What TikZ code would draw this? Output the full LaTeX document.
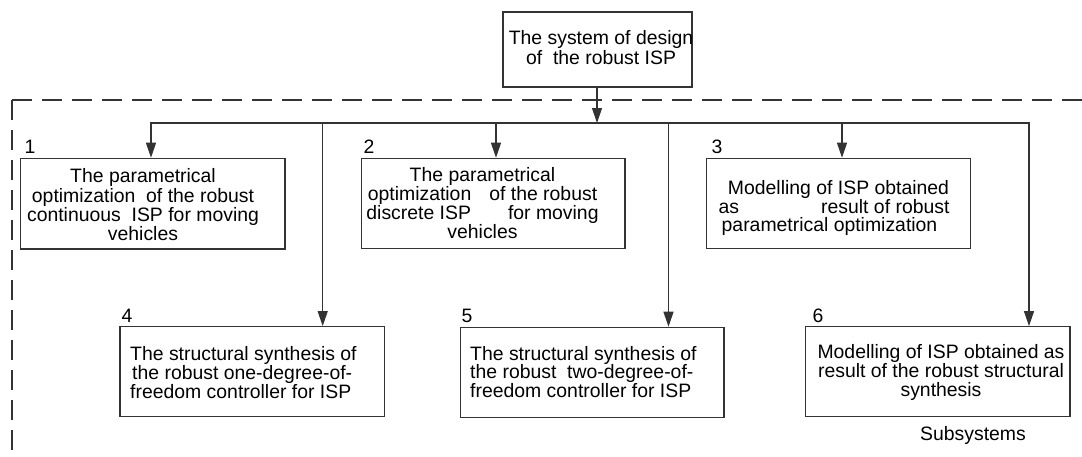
\documentclass[tikz,border=0pt]{standalone}
\usepackage{fontspec}
\setmainfont{Liberation Sans}
\usetikzlibrary{arrows.meta}

\tikzset{
  ln/.style={draw=black!80, line width=1.2pt},
  box/.style={ln, rectangle, inner sep=0pt, minimum width=#1},
  boxh/.style={minimum height=#1},
  arr/.style={ln, line join=miter, -{Triangle[length=15pt,width=10pt]}},
  frame/.style={draw=black!80, line width=1.2pt, dash pattern=on 20pt off 10pt},
  txt/.style={inner sep=0pt, align=center, font=\fontsize{19.4}{#1}\selectfont},
  txtl/.style={inner sep=0pt, align=left, anchor=west, font=\fontsize{19.4}{#1}\selectfont},
  num/.style={inner sep=0pt, font=\fontsize{19.4}{19.4}\selectfont},
}

\begin{document}
\begin{tikzpicture}[x=1pt, y=-1pt]
\useasboundingbox (0,0) rectangle (1082,456);

% dashed frame of the subsystems area
\coordinate (fc) at (12,100);
\coordinate (fb) at (12,456);
\coordinate (fr) at (1082,100);
\draw[frame] (fc) -- (fb);
\draw[frame] (fc) -- (fr);

% top-level system block
\node[box=189pt, boxh=75pt] (top) at (597.5,49.5) {};
\node[txt=20] (ttop) at (601,47.3) {The system of design\\of\ \ the robust ISP};

% subsystem blocks
\node[box=264.3pt, boxh=90.7pt] (b1) at (152.85,203.65) {};
\node[box=263.3pt, boxh=90pt]   (b2) at (493.35,203.3) {};
\node[box=264.4pt, boxh=90pt]   (b3) at (838.5,203.3) {};
\node[box=264.3pt, boxh=90pt]   (b4) at (252.15,371.7) {};
\node[box=263.3pt, boxh=90pt]   (b5) at (592.35,372.3) {};
\node[box=264.3pt, boxh=90pt]   (b6) at (937.85,371.7) {};

% block texts
\node[txt=19.4] (t1) at (143,204.8)
  {The parametrical\\optimization\ \ of the robust\\continuous\ \ ISP for moving\\vehicles};
\node[txt=19] (t2) at (482.5,203.5)
  {The parametrical\\optimization\hspace{18pt}of the robust\\discrete ISP\hspace{37pt}for moving\\vehicles};
\node[txt=17.8] (t3) at (834,207.9)
  {\hspace*{9pt}Modelling of ISP obtained\\\makebox[231pt]{as\hfill result of robust}\\\hspace*{-9pt}parametrical optimization};
\node[txtl=18.8] (t4) at (130,372.5)
  {The structural synthesis of\\\hspace*{2pt}the robust one-degree-of-\\freedom controller for ISP};
\node[txtl=18.8] (t5) at (470,372)
  {The structural synthesis of\\the robust\ \ two-degree-of-\\freedom controller for ISP};
\node[txt=19] (t6) at (941,372)
  {Modelling of ISP obtained as\\result of the robust structural\\synthesis};

% block numbers
\node[num] (n1) at (30,147) {1};
\node[num] (n2) at (369,147) {2};
\node[num] (n3) at (717,147) {3};
\node[num] (n4) at (127,316) {4};
\node[num] (n5) at (467,316) {5};
\node[num] (n6) at (818,316) {6};

% caption of the frame
\node[num, anchor=base] (sub) at (973,440) {Subsystems};

% distribution bus
\coordinate (c0) at (597,123);
\coordinate (c1) at (151,123);
\coordinate (c4) at (322.7,123);
\coordinate (c2) at (496,123);
\coordinate (c5) at (668.5,123);
\coordinate (c3) at (842,123);
\coordinate (c6) at (1029,123);

\draw[arr] (top.south -| c0) -- (c0);
\draw[arr] (c4) -- (c1) -- (b1.north -| c1);
\draw[arr] (c4) -- (c6) -- (b6.north -| c6);
\draw[arr] (c4) -- (b4.north -| c4);
\draw[arr] (c2) -- (b2.north -| c2);
\draw[arr] (c5) -- (b5.north -| c5);
\draw[arr] (c3) -- (b3.north -| c3);
\end{tikzpicture}
\end{document}
